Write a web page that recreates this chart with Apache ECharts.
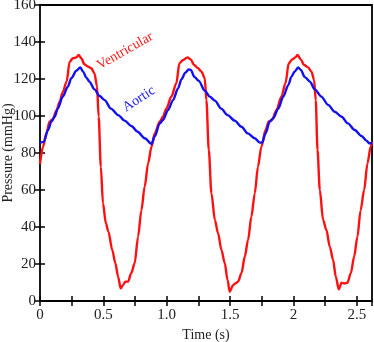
<!DOCTYPE html>
<html>
<head>
<meta charset="utf-8">
<script src="https://cdn.jsdelivr.net/npm/echarts@6/dist/echarts.min.js"></script>
<style>
html,body{margin:0;padding:0;background:#fff;}
#chart{width:374px;height:342px;}
</style>
</head>
<body>
<div id="chart"></div>
<script>
// Tick labels
var xTickValues = [0, 0.5, 1, 1.5, 2, 2.5];
var xTickLabels = ['0', '0.5', '1.0', '1.5', '2', '2.5'];
var yTickLabels = ['0', '20', '40', '60', '80', '100', '120', '140', '160'];

// Series: [time (s), pressure (mmHg)]
var aorticData = [
  [0.0,85.6],[0.03,86],[0.063,92.4],[0.09,97],[0.116,99.6],[0.14,104],[0.18,110.5],[0.22,115.9],
  [0.247,120.4],[0.287,124.5],[0.318,126.3],[0.34,124],[0.366,120.7],[0.39,118.6],[0.43,114.4],
  [0.47,110.8],[0.51,108.6],[0.56,104],[0.616,100.5],[0.668,97.5],[0.72,94.6],[0.77,91.5],
  [0.826,88],[0.88,84.9],
  [0.905,88.8],[0.945,96],[0.97,97.8],[1.01,103.2],[1.05,108.6],[1.09,115],[1.116,119.8],
  [1.147,123.4],[1.174,125.2],[1.19,124.9],[1.22,121],[1.253,119],[1.3,113.7],[1.34,110.5],
  [1.38,108.3],[1.43,104],[1.48,100.5],[1.537,97.5],[1.59,94.2],[1.64,90.6],[1.695,88],
  [1.735,85.6],[1.753,85.6],
  [1.78,90.6],[1.813,97],[1.84,98.7],[1.88,104],[1.92,110.5],[1.96,116.8],[1.984,121.3],
  [2.01,124],[2.037,126.3],[2.058,124.9],[2.09,121],[2.13,118.6],[2.168,114.4],[2.22,110.5],
  [2.274,106],[2.326,102.3],[2.38,99.6],[2.43,96],[2.484,92.4],[2.537,89.2],[2.576,86.7],
  [2.6,85.2],[2.62,85.4]
];
var ventricularData = [
  [0.0,74],[0.024,83.4],[0.05,90.6],[0.076,97],[0.1,98.2],[0.13,103],[0.155,107.7],[0.18,113],
  [0.21,118.6],[0.234,129.4],[0.26,131.2],[0.287,131.7],[0.305,133],[0.326,131.2],[0.35,128],
  [0.38,126.7],[0.405,125.8],[0.43,123],[0.45,116],[0.463,99.6],[0.48,72.6],[0.497,52.8],
  [0.52,42],[0.54,37.5],[0.57,27.6],[0.595,20.4],[0.616,13.2],[0.637,6.8],[0.655,8.6],
  [0.674,10.5],[0.695,10.5],[0.72,15],[0.747,20.4],[0.774,34.8],[0.8,49],[0.826,61.8],
  [0.853,74.4],[0.88,83.4],
  [0.905,90.6],[0.945,97],[0.97,99.6],[0.997,104],[1.037,110.5],[1.076,117.7],[1.1,128.5],
  [1.13,130.3],[1.163,131.7],[1.19,130.6],[1.216,127.6],[1.247,125.8],[1.274,124],[1.3,120.4],
  [1.313,108.6],[1.332,81.6],[1.353,58.2],[1.38,43.8],[1.405,36.6],[1.432,27.6],[1.458,20.4],
  [1.48,11.4],[1.497,5],[1.524,8.6],[1.542,9.5],[1.563,10.5],[1.59,15],[1.616,24],[1.642,33],
  [1.668,45.6],[1.695,58.2],[1.72,72.6],[1.747,83.4],
  [1.78,92.4],[1.805,97],[1.83,97.8],[1.866,103.2],[1.905,110.5],[1.937,117.7],[1.963,128.5],
  [1.99,130.6],[2.016,131.7],[2.032,133],[2.058,130.6],[2.084,127.6],[2.116,126.3],[2.142,124],
  [2.163,119.5],[2.176,108.6],[2.19,81.6],[2.208,60],[2.234,43.8],[2.26,38.4],[2.287,29.4],
  [2.313,22.2],[2.334,13.2],[2.358,6.3],[2.38,9.9],[2.4,9.5],[2.426,9.9],[2.453,15],[2.479,24],
  [2.505,34.8],[2.53,49],[2.558,60],[2.584,74.4],[2.61,83.4],[2.62,86]
];

var FONT = '"Liberation Serif", "DejaVu Serif", serif';
var chart = echarts.init(document.getElementById('chart'), null, {renderer: 'canvas'});

function xLabel(v) {
  for (var i = 0; i < xTickValues.length; i++) {
    if (Math.abs(v - xTickValues[i]) < 1e-6) return xTickLabels[i];
  }
  return '';
}

var tickStyle = {show: true, inside: true, length: 5, lineStyle: {color: '#000', width: 1.5}};
var noLine = {show: false};

var option = {
  animation: false,
  backgroundColor: '#fff',
  grid: {left: 40, right: 2, top: 5, bottom: 41, containLabel: false, outerBoundsMode: 'none',
    show: true, borderColor: '#000', borderWidth: 1.8, backgroundColor: 'transparent'},
  xAxis: [{
    type: 'value', min: 0, max: 2.62, interval: 0.25,
    name: 'Time (s)', nameLocation: 'middle', nameGap: 27, nameMoveOverlap: false,
    nameTextStyle: {fontFamily: FONT, fontSize: 14, color: '#222'},
    axisLine: noLine,
    axisTick: tickStyle,
    axisLabel: {formatter: xLabel, fontFamily: FONT, fontSize: 15, color: '#222', margin: 7,
      showMaxLabel: false},
    splitLine: {show: false}
  }, {
    type: 'value', min: 0, max: 2.62, interval: 0.25, position: 'top',
    axisLine: noLine,
    axisTick: tickStyle, axisLabel: {show: false}, splitLine: {show: false}
  }],
  yAxis: [{
    type: 'value', min: 0, max: 160, interval: 20, position: 'left',
    name: 'Pressure (mmHg)', nameLocation: 'middle', nameGap: 25, nameMoveOverlap: false,
    nameTextStyle: {fontFamily: FONT, fontSize: 14, color: '#222'},
    axisLine: noLine,
    axisTick: tickStyle,
    axisLabel: {fontFamily: FONT, fontSize: 15, color: '#222', margin: 4,
      formatter: function (v) { return yTickLabels[Math.round(v / 20)]; }},
    splitLine: {show: false}
  }, {
    type: 'value', min: 0, max: 160, interval: 20, position: 'right',
    axisLine: noLine,
    axisTick: tickStyle, axisLabel: {show: false}, splitLine: {show: false}
  }],
  series: [{
    name: 'Ventricular', type: 'line', data: ventricularData, showSymbol: false,
    smooth: 0.3, smoothMonotone: 'x',
    lineStyle: {color: '#ff1010', width: 2.4}, z: 3
  }, {
    name: 'Aortic', type: 'line', data: aorticData, showSymbol: false,
    smooth: 0.3, smoothMonotone: 'x',
    lineStyle: {color: '#1010f0', width: 2.4}, z: 4
  }],
  graphic: [{
    type: 'text', x: 125, y: 51, rotation: 29.5 * Math.PI / 180,
    style: {text: 'Ventricular', fill: '#ff1a1a', font: '14px ' + FONT, textAlign: 'center', textVerticalAlign: 'middle'}
  }, {
    type: 'text', x: 139, y: 99, rotation: 33 * Math.PI / 180,
    style: {text: 'Aortic', fill: '#1a1aff', font: '14px ' + FONT, textAlign: 'center', textVerticalAlign: 'middle'}
  }]
};
chart.setOption(option);
</script>
</body>
</html>
